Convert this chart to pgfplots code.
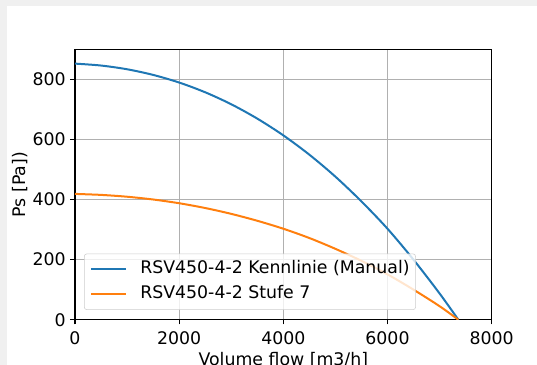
\documentclass[border=0pt]{standalone}
\usepackage{pgfplots}
\pgfplotsset{compat=1.18}
\usepackage{fontspec}
\setmainfont{DejaVu Sans}
\definecolor{C0}{RGB}{31,119,180}
\definecolor{C1}{RGB}{255,127,14}
\definecolor{gridc}{RGB}{176,176,176}
\definecolor{framegray}{RGB}{240,240,240}
\definecolor{legedge}{RGB}{204,204,204}
\newcommand{\ft}{\fontsize{13}{15.6}\selectfont}
\begin{document}
\begin{tikzpicture}
\fill[framegray] (0,0) rectangle (5.6pt,273.75pt);
\fill[framegray] (0,269.25pt) rectangle (402.75pt,273.75pt);
\begin{axis}[
  at={(56.25pt,33.98pt)}, anchor=south west,
  scale only axis, width=312.5pt, height=202.65pt,
  xmin=0, xmax=8000, ymin=0, ymax=900,
  xtick={0,2000,4000,6000,8000}, ytick={0,200,400,600,800},
  scaled x ticks=false, scaled y ticks=false,
  /pgf/number format/assume math mode=true,
  /pgf/number format/1000 sep={},
  tick label style={font=\ft, text=black},
  xticklabel style={inner sep=0pt, yshift=-5pt},
  yticklabel style={inner sep=0pt, xshift=-3.25pt},
  tick align=outside, xtick pos=bottom, ytick pos=left,
  major tick length=3.5pt,
  every tick/.style={black, line width=0.8pt},
  axis line style={black, line width=0.8pt},
  grid=major,
  major grid style={gridc, line width=0.8pt},
  xlabel={Volume flow [m3/h]},
  ylabel={Ps [Pa])},
  every axis x label/.style={at={(axis description cs:0.5,-0.1195)}, anchor=north, inner sep=0pt, font=\ft},
  every axis y label/.style={at={(axis description cs:-0.133,0.5)}, rotate=90, anchor=center, inner sep=0pt, font=\ft},
  legend style={at={(0.0216,0.036)}, anchor=south west,
    draw=legedge, rounded corners=2pt, fill=white, fill opacity=0.8, text opacity=1,
    font=\ft, inner xsep=4.5pt, inner ysep=5.5pt,
    nodes={inner sep=0pt, text height=9.5pt, text depth=2.7pt},
    row sep=6.5pt,
    /tikz/every odd column/.append style={column sep=10pt}},
  legend cell align=left,
  legend image code/.code={\draw[#1] (0pt,0pt) -- (26pt,0pt);},
]
\addplot[C0, line width=1.5pt, smooth] coordinates {
(0,853) (500,846.6) (1000,834.2) (1500,815.4) (2000,790) (2500,757.5) (3000,717.6)
(3500,669.8) (4000,614) (4500,549.6) (5000,476.4) (5500,393.9) (6000,303)
(6500,199.8) (7000,87.4) (7360,0)};
\addlegendentry{RSV450-4-2 Kennlinie (Manual)}
\addplot[C1, line width=1.5pt, smooth] coordinates {
(0,419) (500,415.7) (1000,409.6) (1500,400.4) (2000,387.9) (2500,372) (3000,352.5)
(3500,329.5) (4000,303) (4500,272) (5000,236) (5500,196) (6000,151)
(6500,100) (7000,45) (7360,0)};
\addlegendentry{RSV450-4-2 Stufe 7}
\end{axis}
\pgfresetboundingbox
\path[use as bounding box] (0,0) rectangle (402.75pt,273.75pt);
\end{tikzpicture}
\end{document}
